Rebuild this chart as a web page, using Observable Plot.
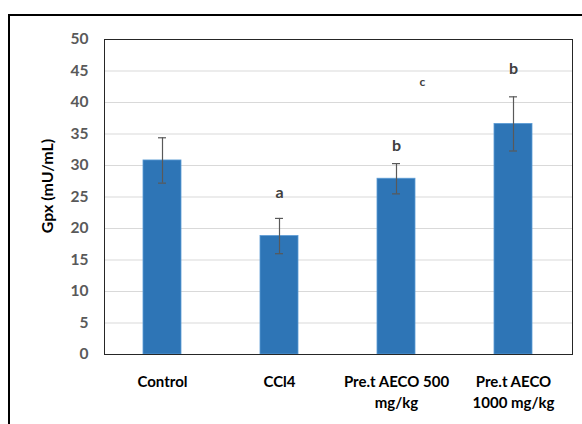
<!DOCTYPE html>
<html>
<head>
<meta charset="utf-8">
<script src="https://cdn.jsdelivr.net/npm/d3@7"></script>
<script src="https://cdn.jsdelivr.net/npm/@observablehq/plot@0.6"></script>
<style>
  html, body { margin: 0; padding: 0; background: #fff; }
  #wrap { position: relative; width: 582px; height: 424px; overflow: hidden; }
  #border { position: absolute; left: 8px; top: 14px; width: 600px; height: 440px; border: 2.5px solid #000; box-sizing: border-box; pointer-events: none; }
  svg { display: block; font-family: Lato, "Open Sans", sans-serif; }
</style>
</head>
<body>
<div id="wrap"><div id="chart"></div><div id="border"></div></div>
<script>
const categories = ["Control", "CCl4", "Pre.t AECO 500 mg/kg", "Pre.t AECO 1000 mg/kg"];
const tickLabels = ["Control", "CCl4", "Pre.t AECO 500\nmg/kg", "Pre.t AECO\n1000 mg/kg"];
const means = [30.8, 18.8, 27.9, 36.6];
const errors = [3.6, 2.8, 2.4, 4.3];
const letterCategories = ["CCl4", "Pre.t AECO 500 mg/kg", "Pre.t AECO 500 mg/kg", "Pre.t AECO 1000 mg/kg"];
const letterTexts = ["a", "b", "c", "b"];
const letterValues = [25.6, 33.1, 43.2, 45.4];
const yTicks = [0, 5, 10, 15, 20, 25, 30, 35, 40, 45, 50];
const yTitle = "Gpx (mU/mL)";

const data = categories.map((c, i) => ({cat: c, mean: means[i], err: errors[i]}));
const letters = letterTexts.map((t, i) => ({cat: letterCategories[i], text: t, y: letterValues[i]}));
const labelOf = new Map(categories.map((c, i) => [c, tickLabels[i]]));

const chart = Plot.plot({
  width: 582,
  height: 424,
  marginLeft: 104,
  marginRight: 10,
  marginTop: 39,
  marginBottom: 70,
  style: {fontFamily: "Lato, 'Open Sans', sans-serif", background: "#fff"},
  x: {domain: categories, paddingInner: 0.675, paddingOuter: 0.3375, label: null},
  y: {domain: [0, 50], label: null},
  marks: [
    Plot.gridY(yTicks, {stroke: "#d9d9d9", strokeOpacity: 1, strokeWidth: 1}),
    Plot.barY(data, {x: "cat", y: "mean", fill: "#2e75b6", stroke: "#5b9bd5", strokeWidth: 0.8}),
    Plot.ruleX(data, {x: "cat", y1: d => d.mean - d.err, y2: d => d.mean + d.err, stroke: "#595959", strokeWidth: 1.2}),
    Plot.tickY(data, {x: "cat", y: d => d.mean + d.err, stroke: "#595959", strokeWidth: 1.2, insetLeft: 15, insetRight: 15}),
    Plot.tickY(data, {x: "cat", y: d => d.mean - d.err, stroke: "#595959", strokeWidth: 1.2, insetLeft: 15, insetRight: 15}),
    Plot.text(letters.filter(d => d.text !== "c"), {x: "cat", y: "y", text: "text", fontSize: 16, fontWeight: "bold", fill: "#404040"}),
    Plot.text(letters.filter(d => d.text === "c"), {x: "cat", y: "y", text: "text", dx: 26, fontSize: 12, fontWeight: "bold", fill: "#404040"}),
    Plot.frame({stroke: "#262626", strokeWidth: 1}),
    Plot.axisY(yTicks, {tickSize: 0, tickPadding: 16, fontSize: 15.5, fontWeight: "bold", fill: "#595959", label: null}),
    Plot.text([yTitle], {frameAnchor: "left", textAnchor: "middle", rotate: -90, dx: -57, dy: -11, fontSize: 16, fontWeight: "bold", fill: "#000"}),
    Plot.axisX({tickSize: 0, tickPadding: 18, fontSize: 15, fontWeight: "bold", fill: "#000", lineHeight: 1.4, tickFormat: d => labelOf.get(d), label: null})
  ]
});
document.getElementById("chart").appendChild(chart);
</script>
</body>
</html>
